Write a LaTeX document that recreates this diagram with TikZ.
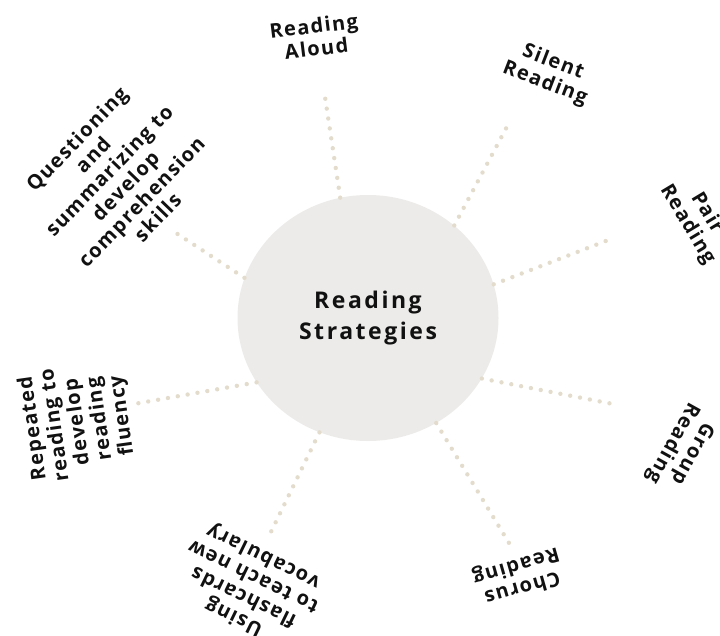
\documentclass[tikz,border=0pt]{standalone}
\usepackage{fontspec}
\setmainfont{Open Sans}
\newfontfamily\hubfont[LetterSpace=11]{Open Sans}
\newfontfamily\leaffont[LetterSpace=7]{Open Sans}
\usetikzlibrary{shapes}
\definecolor{hubgray}{HTML}{ECEBE9}
\definecolor{dotbeige}{HTML}{E3DCCD}
\definecolor{ink}{HTML}{111111}
\tikzstyle{hub} = [ellipse, fill=hubgray, minimum width=261pt, minimum height=246pt,
    inner sep=0pt, align=center, text=ink, font=\hubfont\bfseries\fontsize{23}{31}\selectfont]
\tikzstyle{leaf} = [align=center, inner sep=0pt, text=ink,
    font=\leaffont\bfseries\fontsize{20}{22.5}\selectfont]
\tikzstyle{dots} = [draw=dotbeige, line width=4.4pt, line cap=round, dash pattern=on 0pt off 10pt]

\begin{document}
\begin{tikzpicture}[x=1pt, y=-1pt]
		\useasboundingbox (0,0) rectangle (720,635);
		\clip (0,0) rectangle (720,635);

		\node [hub] (hub) at (368,318) {Reading\\Strategies};

		% strategies round the hub
		\node [leaf, rotate=7] (aloud) at (315,37) {Reading\\Aloud};
		\node [leaf, rotate=-21] (silent) at (549,73) {Silent\\Reading};
		\node [leaf, rotate=-59] (pair) at (697,219) {Pair\\Reading};
		\node [leaf, rotate=241] (group) at (682,448) {Group\\Reading};
		\node [leaf, rotate=196] (chorus) at (519,576) {Chorus\\Reading};
		\node [leaf, rotate=154] (flash) at (249,586) {Using\\flashcards\\to teach new\\vocabulary};
		\node [leaf, rotate=98] (repeated) at (78,422) {Repeated\\reading to\\develop\\reading\\fluency};
		\node [leaf, rotate=46] (question) at (117,178) {Questioning\\and\\summarizing to\\develop\\comprehension\\skills};

		% outer ends of the dotted spokes
		\coordinate (aloud-tip) at (325,97);
		\coordinate (silent-tip) at (510,121);
		\coordinate (pair-tip) at (611,239);
		\coordinate (group-tip) at (613,404);
		\coordinate (chorus-tip) at (509,543);
		\coordinate (flash-tip) at (268,538);
		\coordinate (repeated-tip) at (134,404);
		\coordinate (question-tip) at (173,231);

		\path [dots] (hub.103) -- (aloud-tip);
		\path [dots] (hub.47.5) -- (silent-tip);
		\path [dots] (hub.15.4) -- (pair-tip);
		\path [dots] (hub.-28.3) -- (group-tip);
		\path [dots] (hub.-57.4) -- (chorus-tip);
		\path [dots] (hub.-113) -- (flash-tip);
		\path [dots] (hub.210) -- (repeated-tip);
		\path [dots] (hub.162.3) -- (question-tip);
	\end{tikzpicture}
\end{document}
